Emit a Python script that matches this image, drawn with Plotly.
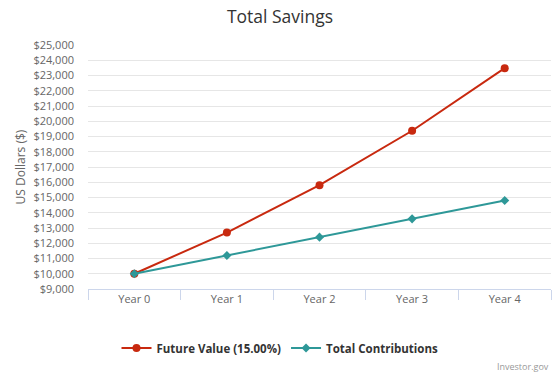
import plotly.graph_objects as go

categories = ["Year 0", "Year 1", "Year 2", "Year 3", "Year 4"]
future_value = [10000, 12700, 15805, 19376, 23482]
total_contributions = [10000, 11200, 12400, 13600, 14800]
fv_name = "Future Value (15.00%)"
tc_name = "Total Contributions"

RED = "#c8290f"
TEAL = "#2e9898"
FONT = "Open Sans"

fig = go.Figure()
fig.add_trace(go.Scatter(
    x=categories, y=future_value, name=fv_name, mode="lines+markers",
    line=dict(color=RED, width=2),
    marker=dict(symbol="circle", size=8, color=RED),
))
fig.add_trace(go.Scatter(
    x=categories, y=total_contributions, name=tc_name, mode="lines+markers",
    line=dict(color=TEAL, width=2),
    marker=dict(symbol="diamond", size=7, color=TEAL),
))

fig.update_layout(
    width=560, height=373,
    margin=dict(l=88, r=9, t=45, b=84, autoexpand=False),
    paper_bgcolor="white", plot_bgcolor="white",
    font=dict(family=FONT, size=11, color="#666666"),
    title=dict(text="Total Savings", x=0.5, xref="container", xanchor="center",
               y=0.955, yref="container", yanchor="middle",
               font=dict(family=FONT, size=17.5, color="#333333")),
    showlegend=True,
    legend=dict(orientation="h", xref="container", yref="container",
                x=0.5, xanchor="center", y=0.067, yanchor="middle",
                font=dict(family=FONT, size=11.5, color="#333333", weight="bold"),
                itemwidth=30, traceorder="normal"),
    annotations=[dict(text="Investor.gov", xref="paper", yref="paper",
                      x=1, y=-0.316, xanchor="right", yanchor="middle",
                      showarrow=False, font=dict(family=FONT, size=9, color="#999999"))],
)

fig.update_xaxes(
    type="category", range=[-0.5, 4.5], automargin=False,
    showgrid=False, showline=True, linecolor="#ccd6eb", linewidth=1,
    ticks="outside", tickson="boundaries", ticklen=10, tickcolor="#ccd6eb",
    tickfont=dict(family=FONT, size=11, color="#666666"),
    zeroline=False, fixedrange=True,
)
fig.update_yaxes(
    range=[9000, 25000], dtick=1000, tick0=9000, automargin=False,
    tickprefix="$", tickformat=",d", separatethousands=True,
    showgrid=True, gridcolor="#e6e6e6", gridwidth=1,
    showline=False, zeroline=False, ticks="", ticklabelstandoff=13,
    tickfont=dict(family=FONT, size=11, color="#666666"),
    title=dict(text="US Dollars ($)", font=dict(family=FONT, size=12, color="#666666"),
               standoff=5),
)

fig.write_html("out.html", config={"displayModeBar": False},
               post_script="document.body.style.margin='0';")
